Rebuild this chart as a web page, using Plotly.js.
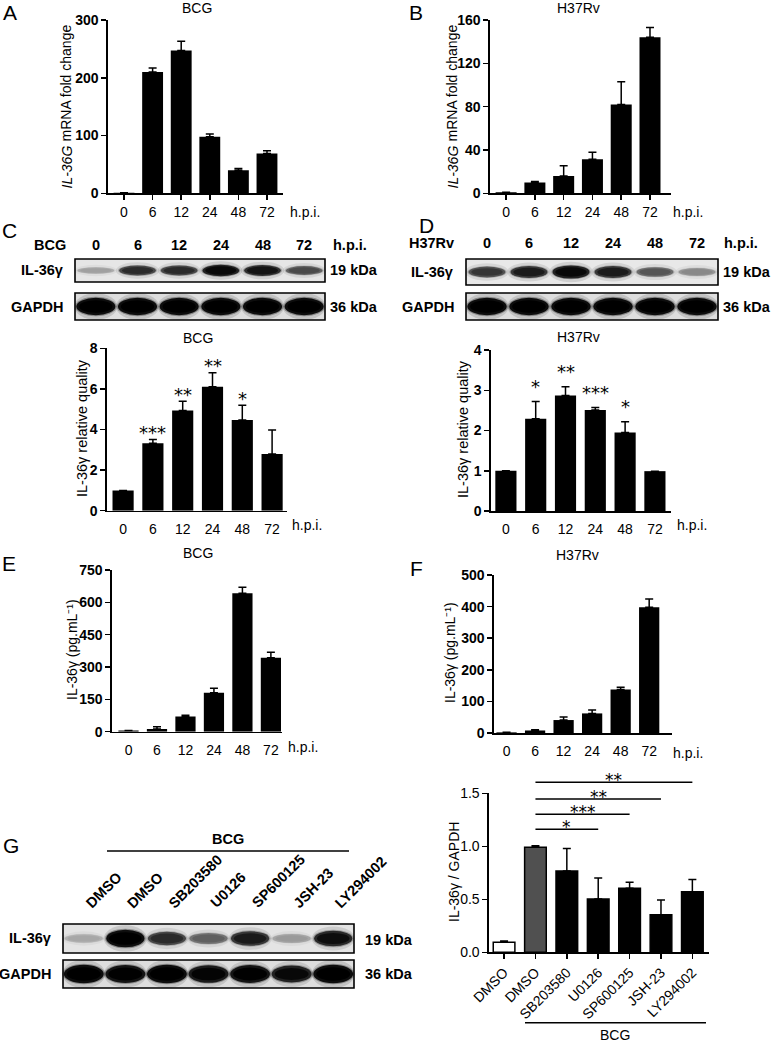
<!DOCTYPE html>
<html><head><meta charset="utf-8">
<script src="https://cdn.plot.ly/plotly-3.0.1.min.js"></script>
<style>html,body{margin:0;padding:0;background:#fff}#chart{width:777px;height:1043px}</style>
</head><body><div id="chart"></div>
<script>
// ---------------- DATA ----------------
const hpi = ['0','6','12','24','48','72'];
const aVals = [1,210,247,98,40,69];
const aErr  = [0,7,16,4.6,3,4.5];
const bVals = [1,10,16,31.4,82,144];
const bErr  = [0,1,9.5,6.6,21,9];
const cVals = [1,3.32,4.93,6.11,4.47,2.79];
const cErr  = [0,0.19,0.46,0.69,0.73,1.18];
const cStars = ['','***','**','**','*',''];
const dVals = [1,2.29,2.87,2.51,1.95,0.99];
const dErr  = [0,0.43,0.22,0.06,0.27,0];
const dStars = ['','*','**','***','*',''];
const eVals = [5,12,70,181,642,343];
const eErr  = [0,11,6,20,28,25];
const fVals = [2,8,41,62,138,398];
const fErr  = [0,2,10,11,7,26];
const gLabels = ['DMSO','DMSO','SB203580','U0126','SP600125','JSH-23','LY294002'];
const gVals = [0.094,0.99,0.767,0.503,0.604,0.355,0.572];
const gErr  = [0.013,0.016,0.213,0.197,0.056,0.139,0.114];
const gSigTo = [6,5,4,3];
const gSigStars = ['**','**','***','*'];
// western blot band intensities (0..1)
const cBlotIL = [0.1,0.6,0.6,0.85,0.75,0.45];
const cBlotGAPDH = [1,1,1,1,1,1];
const dBlotIL = [0.55,0.7,0.85,0.7,0.4,0.2];
const dBlotGAPDH = [1,1,1,1,1,1];
const gBlotIL = [0.06,1,0.6,0.35,0.7,0.12,0.8];
const gBlotGAPDH = [1,0.95,1,0.9,0.95,0.85,1];

// ---------------- LAYOUT HELPERS ----------------
const W = 777, H = 1043;
const FONT = 'Liberation Sans, Arial, sans-serif';
const INK = '#000';
const px = x => x / W;
const py = y => 1 - y / H;
const idx = n => Array.from({length:n}, (_, i) => i);

const panels = [
  {id:'',  vals:aVals, err:aErr, labels:hpi, x:[108,283], y:[193.3,20],  range:[0,300], dtick:100, xr:[-0.56,5.56], xticks:true,  bw:0.73, boldY:true},
  {id:'2', vals:bVals, err:bErr, labels:hpi, x:[490,671], y:[193.3,20],  range:[0,160], dtick:40,  xr:[-0.56,5.73], xticks:true,  bw:0.73, boldY:true},
  {id:'3', vals:cVals, err:cErr, labels:hpi, x:[107,287], y:[510.7,348.3], range:[0,8], dtick:2,   xr:[-0.54,5.5],  xticks:false, bw:0.71, boldY:true, stars:cStars, starShift:7},
  {id:'4', vals:dVals, err:dErr, labels:hpi, x:[491,671], y:[511,350],   range:[0,4],   dtick:1,   xr:[-0.5,5.54],  xticks:false, bw:0.71, boldY:true, stars:dStars, starShift:15},
  {id:'5', vals:eVals, err:eErr, labels:hpi, x:[112,282], y:[731.7,570], range:[0,750], dtick:150, xr:[-0.58,5.39], xticks:false, bw:0.71, boldY:true},
  {id:'6', vals:fVals, err:fErr, labels:hpi, x:[494,672], y:[733,575],   range:[0,500], dtick:100, xr:[-0.44,5.8],  xticks:false, bw:0.71, boldY:true},
  {id:'7', vals:gVals, err:gErr, labels:gLabels, x:[489,709], y:[952.3,793.3], range:[0,1.5], dtick:0.5, xr:[-0.48,6.53], xticks:true, bw:0.69,
   colors:['#ffffff','#505050','#000','#000','#000','#000','#000'], outline:1.5, tickangle:-45, tickformat:'.1f'}
];

const traces = [];
const layout = {
  width:W, height:H, margin:{l:0,r:0,t:0,b:0},
  paper_bgcolor:'#fff', plot_bgcolor:'rgba(0,0,0,0)', showlegend:false,
  font:{family:FONT, size:14, color:INK},
  annotations:[], shapes:[]
};

panels.forEach(p => {
  const n = p.vals.length;
  traces.push({
    type:'bar', x:idx(n), y:p.vals, xaxis:'x'+p.id, yaxis:'y'+p.id, width:p.bw,
    marker:{color:p.colors || '#000', line:{color:'#000', width:p.outline || 0}},
    error_y:{type:'data', symmetric:false, array:p.err, arrayminus:p.err.map(()=>0), color:'#000', thickness:1.5, width:4},
    hoverinfo:'skip'
  });
  layout['xaxis'+p.id] = {
    domain:[px(p.x[0]), px(p.x[1])], range:p.xr, anchor:'y'+p.id,
    showline:true, linecolor:'#000', linewidth:1.6, mirror:false,
    ticks:'outside', ticklen:5, tickwidth:1.5, tickcolor:p.xticks ? '#000' : 'rgba(0,0,0,0)',
    tickvals:idx(n), ticktext:p.labels, tickangle:p.tickangle || 0,
    tickfont:{family:FONT, size:14, color:INK},
    showgrid:false, zeroline:false, fixedrange:true
  };
  layout['yaxis'+p.id] = {
    domain:[py(p.y[0]), py(p.y[1])], range:p.range, anchor:'x'+p.id,
    showline:true, linecolor:'#000', linewidth:1.6,
    ticks:'outside', ticklen:5, tickwidth:1.5, tickcolor:'#000',
    dtick:p.dtick, tick0:0, tickformat:p.tickformat || '',
    tickfont:{family:FONT, size:14, color:INK, weight:p.boldY ? 'bold' : 'normal'},
    showgrid:false, zeroline:false, fixedrange:true
  };
  if (p.stars) {
    p.stars.forEach((s, i) => {
      if (!s) return;
      layout.annotations.push({xref:'x'+p.id, yref:'y'+p.id, x:i, y:p.vals[i]+p.err[i], text:s,
        showarrow:false, yanchor:'middle', xanchor:'center', yshift:p.starShift,
        font:{family:'DejaVu Sans, sans-serif', size:18, color:'#000'}});
    });
  }
});

function ann(text, x, y, o) {
  o = o || {};
  layout.annotations.push(Object.assign({
    xref:'paper', yref:'paper', x:px(x), y:py(y), text:text, showarrow:false,
    xanchor:'center', yanchor:'middle',
    font:{family:FONT, size:o.size || 14, color:INK, style:o.style || 'normal', weight:o.weight || 'normal'}
  }, o.extra || {}));
}
function line(x0, y0, x1, y1, w) {
  layout.shapes.push({type:'line', xref:'paper', yref:'paper', x0:px(x0), y0:py(y0), x1:px(x1), y1:py(y1),
    line:{color:'#000', width:w || 1.5}});
}

// panel letters
[['A',10,13],['B',416,13],['C',9,230],['D',426,226],['E',9,563],['F',416,568],['G',11,845]]
  .forEach(l => ann(l[0], l[1], l[2], {size:21}));

// chart titles
ann('BCG', 197, 8); ann('H37Rv', 578, 8);
ann('BCG', 198, 338); ann('H37Rv', 578, 337);
ann('BCG', 198, 553); ann('H37Rv', 577, 555);

// y-axis titles
const rot = {textangle:-90};
[66, 452].forEach(x => {
  ann('IL-36G', x, 191, {style:'italic', extra:{textangle:-90, yanchor:'bottom'}});
  ann('mRNA fold change', x, 144, {extra:{textangle:-90, yanchor:'bottom'}});
});
ann('IL-36γ relative quality', 82, 428, {size:14.5, extra:rot});
ann('IL-36γ relative quality', 463, 429, {size:14.5, extra:rot});
ann('IL-36γ (pg.mL⁻¹)', 72, 650, {extra:rot});
ann('IL-36γ (pg.mL⁻¹)', 450, 652, {extra:rot});
ann('IL-36γ / GAPDH', 454, 872, {extra:rot});

// h.p.i. labels
ann('h.p.i.', 305, 212); ann('h.p.i.', 688, 212);
ann('h.p.i.', 307, 525); ann('h.p.i.', 692, 525);
ann('h.p.i.', 303, 747); ann('h.p.i.', 688, 753);

// G significance brackets
const G = panels[6];
const gx = i => G.x[0] + (i - G.xr[0]) / (G.xr[1] - G.xr[0]) * (G.x[1] - G.x[0]);
const sigY = [782.3, 799, 814.3, 829.3];
gSigTo.forEach((t, k) => {
  line(gx(1), sigY[k], gx(t), sigY[k], 1.5);
  layout.annotations.push({xref:'paper', yref:'paper', x:px((gx(1)+gx(t))/2), y:py(sigY[k]-2), text:gSigStars[k],
    showarrow:false, xanchor:'center', yanchor:'middle', font:{family:'DejaVu Sans, sans-serif', size:17, color:'#000'}});
});
line(525, 1022.7, 706, 1022.7, 1.5);
ann('BCG', 615, 1035);

// ---------------- WESTERN BLOTS ----------------
function ell(cx, cy, rw, rh, color) {
  layout.shapes.push({type:'circle', xref:'paper', yref:'paper',
    x0:px(cx-rw), x1:px(cx+rw), y0:py(cy+rh), y1:py(cy-rh), fillcolor:color, line:{width:0}});
}
function blot(box, vals, k, wk, bg) {
  const [x0, x1, y0, y1] = box;
  const n = vals.length, lw = (x1 - x0) / n, cy = (y0 + y1) / 2;
  layout.shapes.push({type:'rect', xref:'paper', yref:'paper', x0:px(x0), x1:px(x1), y0:py(y1), y1:py(y0),
    fillcolor:bg, line:{width:0}});
  vals.forEach((v, i) => {
    const cx = x0 + (i + 0.5) * lw;
    const rh = (y1 - y0) * 0.5 * k * (0.45 + 0.55 * v);
    ell(cx, cy, lw * 0.52, rh * 1.35 + 1.5, `rgba(0,0,0,${(0.03 + 0.09 * v).toFixed(3)})`);
    ell(cx, cy, lw * (wk + 0.03), rh * 1.12, `rgba(0,0,0,${(0.05 + 0.25 * v).toFixed(3)})`);
    ell(cx, cy, lw * wk, rh, `rgba(0,0,0,${(0.08 + 0.82 * v).toFixed(3)})`);
    ell(cx, cy, lw * wk * 0.85, rh * 0.72, `rgba(0,0,0,${(0.05 + 0.95 * v * v).toFixed(3)})`);
  });
  layout.shapes.push({type:'rect', xref:'paper', yref:'paper', x0:px(x0), x1:px(x1), y0:py(y1), y1:py(y0),
    fillcolor:'rgba(0,0,0,0)', line:{color:'#000', width:1.6}});
  return {x0, lw};
}
const bsz = 14.5;
const bold = (extra) => ({size:bsz, weight:'bold', extra:extra || {}});

// C blot
let bl = blot([75,325,259,282], cBlotIL, 0.55, 0.44, '#e6e6e6');
blot([75,325,293,320], cBlotGAPDH, 0.64, 0.47, '#dedede');
ann('BCG', 50, 245, bold());
hpi.forEach((h, i) => ann(h, bl.x0 + (i + 0.5) * bl.lw, 245, bold()));
ann('h.p.i.', 350, 245, bold());
ann('IL-36γ', 65, 270, bold({xanchor:'right'}));
ann('GAPDH', 65, 307, bold({xanchor:'right'}));
ann('19 kDa', 328, 270, bold({xanchor:'left'}));
ann('36 kDa', 328, 307, bold({xanchor:'left'}));

// D blot
bl = blot([466,718,259,285], dBlotIL, 0.55, 0.44, '#e8e8e8');
blot([466,718,293,320], dBlotGAPDH, 0.64, 0.47, '#dedede');
ann('H37Rv', 431, 243, bold());
hpi.forEach((h, i) => ann(h, bl.x0 + (i + 0.5) * bl.lw, 243, bold()));
ann('h.p.i.', 741, 243, bold());
ann('IL-36γ', 455, 272, bold({xanchor:'right'}));
ann('GAPDH', 456, 307, bold({xanchor:'right'}));
ann('19 kDa', 721, 272, bold({xanchor:'left'}));
ann('36 kDa', 721, 307, bold({xanchor:'left'}));

// G blot
bl = blot([63,354,924,953], gBlotIL, 0.6, 0.46, '#e4e4e4');
blot([63,354,960,988], gBlotGAPDH, 0.66, 0.48, '#dedede');
ann('BCG', 228, 839, bold());
line(107, 851, 349, 851, 1.6);
gLabels.forEach((l, i) => ann(l, bl.x0 + (i + 0.5) * bl.lw - 4, 914,
  bold({textangle:-45, xanchor:'left', yanchor:'bottom'})));
ann('IL-36γ', 53, 938, bold({xanchor:'right'}));
ann('GAPDH', 53, 974, bold({xanchor:'right'}));
ann('19 kDa', 363, 940, bold({xanchor:'left'}));
ann('36 kDa', 363, 974, bold({xanchor:'left'}));

Plotly.newPlot('chart', traces, layout, {displayModeBar:false, staticPlot:true});
</script>
</body></html>
